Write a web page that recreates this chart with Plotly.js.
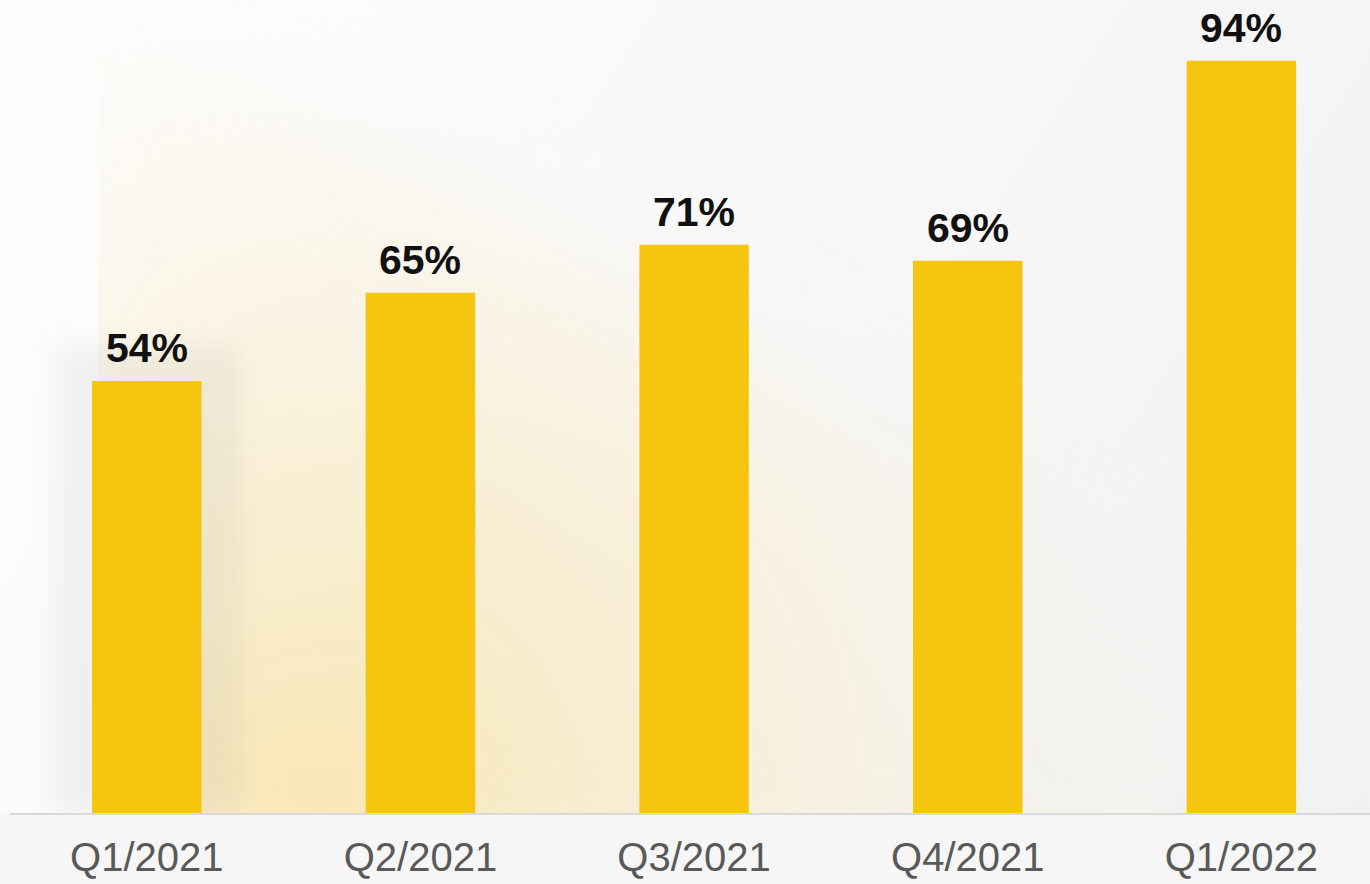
<!DOCTYPE html>
<html>
<head>
<meta charset="utf-8">
<script src="https://cdn.plot.ly/plotly-3.0.1.min.js"></script>
<style>
html,body{margin:0;padding:0;background:#f7f7f7;}
#chart{width:1370px;height:884px;}
</style>
</head>
<body>
<div id="chart"></div>
<script>
const categories = ["Q1/2021", "Q2/2021", "Q3/2021", "Q4/2021", "Q1/2022"];
const values = [54, 65, 71, 69, 94];
const valueLabels = ["54%", "65%", "71%", "69%", "94%"];

// background texture (gradient) drawn on a canvas, used as a layout image
function makeBg() {
  const c = document.createElement('canvas');
  c.width = 1370; c.height = 884;
  const g = c.getContext('2d');
  const lin = g.createLinearGradient(0, 0, 1370, 884);
  lin.addColorStop(0, '#fefefe');
  lin.addColorStop(1, '#f1f1f1');
  g.fillStyle = lin;
  g.fillRect(0, 0, 1370, 884);
  // warm glow, soft diagonal edge
  const glow = document.createElement('canvas');
  glow.width = 1370; glow.height = 884;
  const h = glow.getContext('2d');
  h.filter = 'blur(60px)';
  h.fillStyle = '#000';
  h.beginPath();
  h.moveTo(60, -40);
  h.lineTo(1500, 760);
  h.lineTo(1500, 900);
  h.lineTo(60, 900);
  h.closePath();
  h.fill();
  h.filter = 'none';
  h.globalCompositeOperation = 'source-in';
  const rad = h.createRadialGradient(320, 813, 0, 320, 813, 1000);
  rad.addColorStop(0, 'rgba(248,222,150,0.7)');
  rad.addColorStop(0.35, 'rgba(248,226,165,0.42)');
  rad.addColorStop(0.7, 'rgba(250,236,200,0.16)');
  rad.addColorStop(1, 'rgba(250,240,210,0)');
  h.fillStyle = rad;
  h.fillRect(0, 0, 1370, 884);
  g.save();
  g.beginPath();
  g.rect(98, 0, 1272, 813);
  g.clip();
  g.drawImage(glow, 0, 0);
  g.restore();
  // soft shadow around first bar
  g.save();
  g.filter = 'blur(12px)';
  g.fillStyle = 'rgba(120,120,120,0.08)';
  g.fillRect(55, 345, 185, 468);
  g.restore();
  g.fillStyle = '#f6f6f6';
  g.fillRect(0, 815, 1370, 69);
  return c.toDataURL('image/png');
}

const plotW = 1360, plotH = 813;
const layout = {
  width: 1370, height: 884,
  margin: {l: 10, r: 0, t: 0, b: 71, pad: 0},
  paper_bgcolor: '#f7f7f7',
  plot_bgcolor: 'rgba(0,0,0,0)',
  showlegend: false,
  font: {family: 'Liberation Sans, Arial, sans-serif'},
  xaxis: {
    type: 'category',
    range: [-0.5, 4.47],
    showline: true, linecolor: '#d9d9d9', linewidth: 2,
    showgrid: false, zeroline: false, ticks: '',
    tickfont: {size: 40, color: '#595959', family: 'Liberation Sans, Arial, sans-serif'},
    ticklabelstandoff: 8,
    fixedrange: true
  },
  yaxis: {
    range: [0, 101.6],
    visible: false, showgrid: false, zeroline: false,
    fixedrange: true
  },
  images: [{
    source: makeBg(), xref: 'paper', yref: 'paper',
    x: -10 / plotW, y: 1, sizex: 1370 / plotW, sizey: 884 / plotH,
    xanchor: 'left', yanchor: 'top', sizing: 'stretch', layer: 'below'
  }],
  annotations: categories.map((c, i) => ({
    x: c, y: values[i], xref: 'x', yref: 'y',
    text: valueLabels[i], showarrow: false,
    yanchor: 'bottom', xanchor: 'center', yshift: 8,
    font: {size: 41, color: '#111111', family: 'Liberation Sans, Arial, sans-serif', weight: 'bold'}
  }))
};

const data = [{
  type: 'bar',
  x: categories,
  y: values,
  width: 0.4,
  marker: {color: '#F5C50F', line: {width: 0}},
  hoverinfo: 'skip'
}];

Plotly.newPlot('chart', data, layout, {displayModeBar: false, staticPlot: true});
</script>
</body>
</html>
